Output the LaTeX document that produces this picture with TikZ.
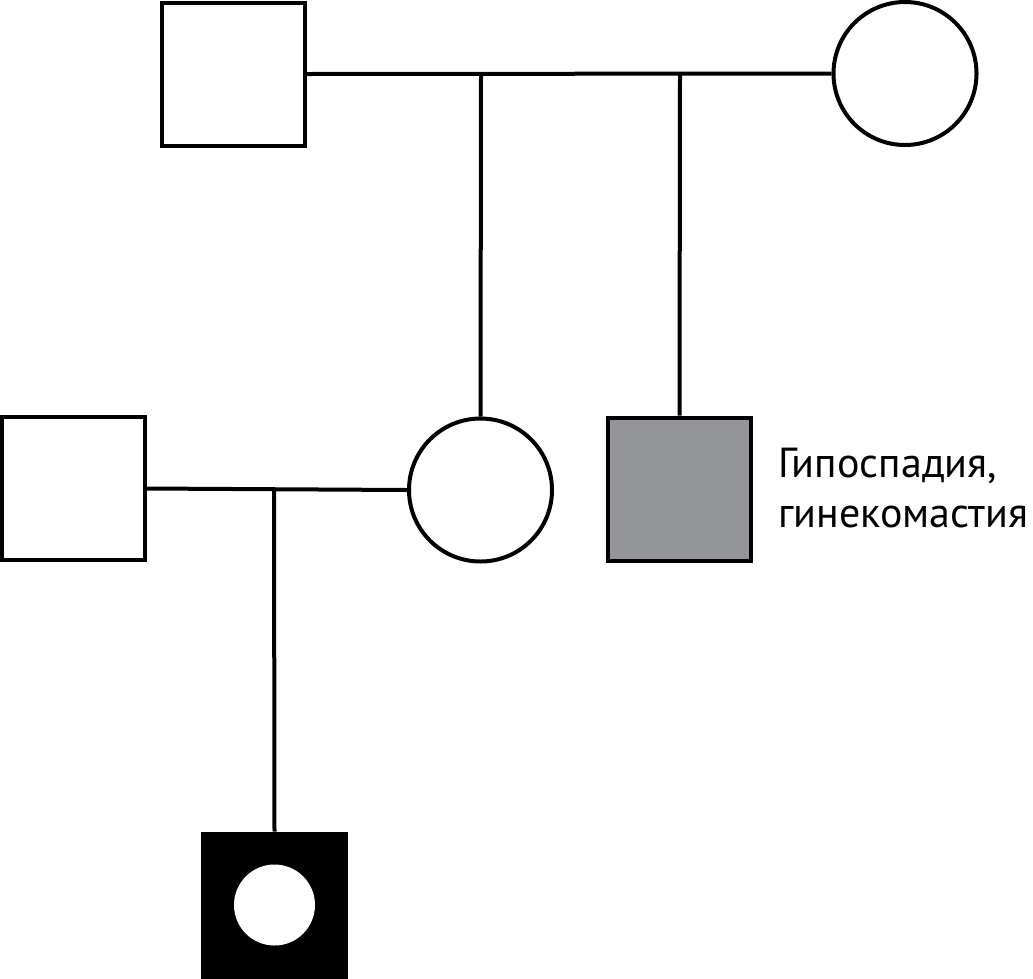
\documentclass[tikz,border=0pt]{standalone}
\usepackage{fontspec}
\setmainfont{PT Sans}
\definecolor{affgrey}{HTML}{939598}
\begin{document}
\begin{tikzpicture}[x=1pt,y=-1pt,line width=4pt,
  male/.style={draw, rectangle, minimum size=143pt, inner sep=0pt, fill=white},
  female/.style={draw, circle, minimum size=143pt, inner sep=0pt, fill=white}]
\useasboundingbox (0,0) rectangle (1033,978);
\node[male] (gf) at (233.5,74) {};
\node[female] (gm) at (905,73.5) {};
\node[female] (mo) at (480.5,490) {};
\node[male, fill=affgrey] (un) at (679.5,489) {};
\node[male] (fa) at (73.5,488.5) {};
\node[male, fill=black] (pr) at (274.5,905) {};
\node[circle, fill=white, draw=none, minimum size=81pt, inner sep=0pt] (prc) at (pr.center) {};
\coordinate (m1) at (481,74);
\coordinate (m2) at (680,74);
\coordinate (m3) at (274,488.5);
\draw (gf.east) -- (gm.west);
\draw (m1) -- (mo.north);
\draw (m2) -- (un.north);
\draw (fa.east) -- (mo.west);
\draw (m3) -- (pr.north);
\node[anchor=base west, align=left, inner sep=0pt, font=\fontsize{42}{50}\selectfont] (lbl) at (776,527) {Гипоспадия,\\гинекомастия};
\end{tikzpicture}
\end{document}
